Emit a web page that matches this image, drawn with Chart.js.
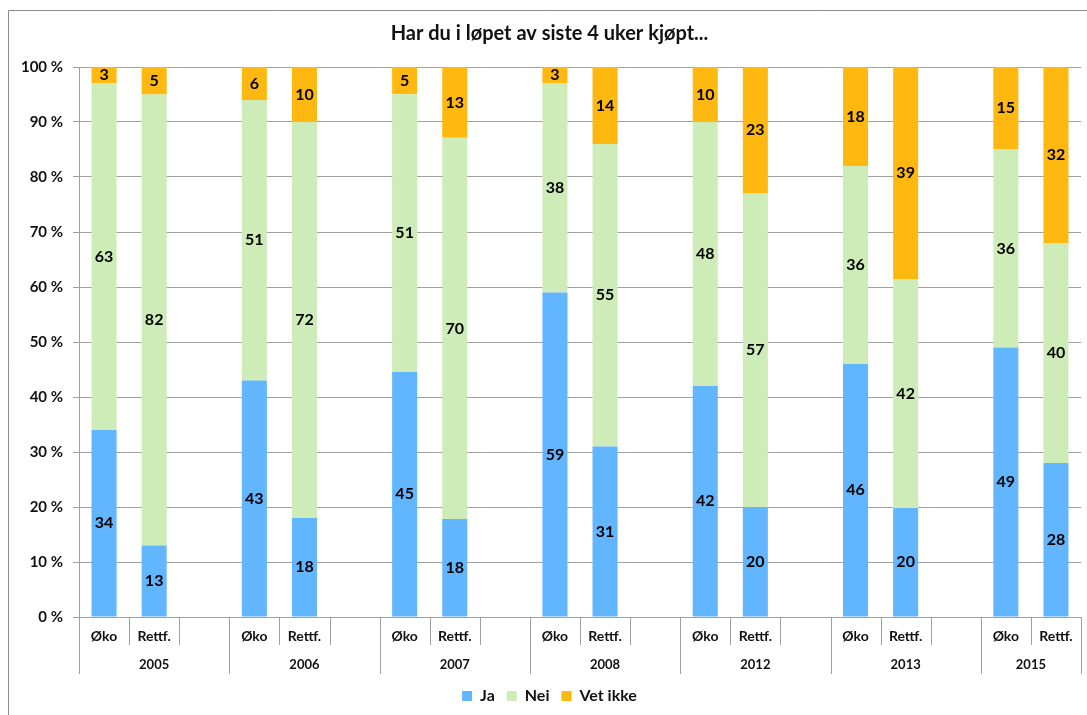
<!DOCTYPE html>
<html>
<head>
<meta charset="utf-8">
<script src="https://cdn.jsdelivr.net/npm/chart.js@4"></script>
<style>
  body { margin: 0; background: #fff; }
  #wrap { position: relative; width: 1087px; height: 715px; }
</style>
</head>
<body>
<div id="wrap"><canvas id="chart" width="1087" height="715"></canvas></div>
<script>
const years = ['2005', '2006', '2007', '2008', '2012', '2013', '2015'];
const groups = ['Øko', 'Rettf.'];
const seriesNames = ['Ja', 'Nei', 'Vet ikke'];
const seriesColors = ['#62b5ff', '#cdecb8', '#ffb80f'];

// per year: Øko, Rettf.
const ja      = [34, 13, 43, 18, 45, 18, 59, 31, 42, 20, 46, 20, 49, 28];
const nei     = [63, 82, 51, 72, 51, 70, 38, 55, 48, 57, 36, 42, 36, 40];
const vetIkke = [3, 5, 6, 10, 5, 13, 3, 14, 10, 23, 18, 39, 15, 32];

const FONT = 'Lato, "Liberation Sans", sans-serif';

// categories: Øko, Rettf. and an empty slot between years
const labels = [];
years.forEach((y, i) => {
    labels.push(...groups);
    if (i < years.length - 1) labels.push('');
});

function spread(values) {
    const out = [];
    years.forEach((y, i) => {
        out.push(values[i * 2], values[i * 2 + 1]);
        if (i < years.length - 1) out.push(null);
    });
    return out;
}

// 100 % stacked: each bar scaled by its own total
function share(values) {
    return spread(values.map((v, i) => v / (ja[i] + nei[i] + vetIkke[i]) * 100));
}

const rawSeries = [ja, nei, vetIkke];

const frameAndAxis = {
    id: 'frameAndAxis',
    beforeDraw(chart) {
        const ctx = chart.ctx;
        ctx.save();
        ctx.strokeStyle = '#8c8c8c';
        ctx.lineWidth = 1;
        ctx.beginPath();
        ctx.moveTo(8.5, 715);
        ctx.lineTo(8.5, 10.5);
        ctx.lineTo(1087, 10.5);
        ctx.stroke();
        ctx.restore();
    },
    afterDraw(chart) {
        const ctx = chart.ctx;
        const x = chart.scales.x;
        const bottom = chart.chartArea.bottom;
        const n = labels.length;
        const slot = (x.right - x.left) / n;
        ctx.save();
        ctx.strokeStyle = '#a0a0a0';
        ctx.lineWidth = 1;
        for (let k = 0; k <= n; k++) {
            const px = Math.round(x.left + k * slot) + 0.5;
            const long = k % 3 === 0 || k === n;
            ctx.beginPath();
            ctx.moveTo(px, bottom);
            ctx.lineTo(px, bottom + (long ? 57 : 28));
            ctx.stroke();
        }
        ctx.fillStyle = '#111';
        ctx.font = 'bold 13px ' + FONT;
        ctx.textAlign = 'center';
        ctx.textBaseline = 'middle';
        years.forEach((y, g) => {
            const start = g * 3;
            const end = Math.min(start + 3, n);
            ctx.fillText(y, x.left + (start + end) / 2 * slot, bottom + 48);
        });
        ctx.restore();
    }
};

const segmentLabels = {
    id: 'segmentLabels',
    afterDatasetsDraw(chart) {
        const ctx = chart.ctx;
        ctx.save();
        ctx.fillStyle = '#000';
        ctx.font = 'bold 16px ' + FONT;
        ctx.textAlign = 'center';
        ctx.textBaseline = 'middle';
        chart.data.datasets.forEach((ds, di) => {
            const meta = chart.getDatasetMeta(di);
            const raw = spread(rawSeries[di]);
            meta.data.forEach((bar, i) => {
                if (raw[i] == null) return;
                const p = bar.getProps(['x', 'y', 'base'], true);
                ctx.fillText(String(raw[i]), p.x, (p.y + p.base) / 2);
            });
        });
        ctx.restore();
    }
};

new Chart(document.getElementById('chart'), {
    type: 'bar',
    data: {
        labels: labels,
        datasets: [ja, nei, vetIkke].map((s, i) => ({
            label: seriesNames[i],
            data: share(s),
            backgroundColor: seriesColors[i],
            borderWidth: 0,
            barPercentage: 0.5,
            categoryPercentage: 1
        }))
    },
    options: {
        responsive: false,
        animation: false,
        layout: { padding: { left: 18, right: 6, top: 0, bottom: 1 } },
        plugins: {
            title: {
                display: true,
                text: 'Har du i løpet av siste 4 uker kjøpt...',
                color: '#111',
                font: { family: FONT, size: 20, weight: 'bold' },
                padding: { top: 22, bottom: 21 }
            },
            legend: {
                position: 'bottom',
                labels: {
                    color: '#111',
                    font: { family: FONT, size: 16, weight: 'bold' },
                    boxWidth: 10,
                    boxHeight: 10,
                    padding: 12
                }
            },
            tooltip: { enabled: false }
        },
        scales: {
            x: {
                stacked: true,
                grid: { display: false, drawTicks: false },
                border: { display: false },
                ticks: {
                    color: '#111',
                    font: { family: FONT, size: 14, weight: 'bold' },
                    padding: 11,
                    maxRotation: 0,
                    autoSkip: false
                },
                afterFit(scale) { scale.height = 59; }
            },
            y: {
                stacked: true,
                min: 0,
                max: 100,
                grid: { color: '#a0a0a0', tickLength: 6 },
                border: { color: '#a0a0a0' },
                ticks: {
                    stepSize: 10,
                    color: '#111',
                    font: { family: FONT, size: 15, weight: 'bold' },
                    padding: 10,
                    callback: v => v + ' %'
                },
                afterFit(scale) { scale.width = 61; }
            }
        }
    },
    plugins: [frameAndAxis, segmentLabels]
});
</script>
</body>
</html>
